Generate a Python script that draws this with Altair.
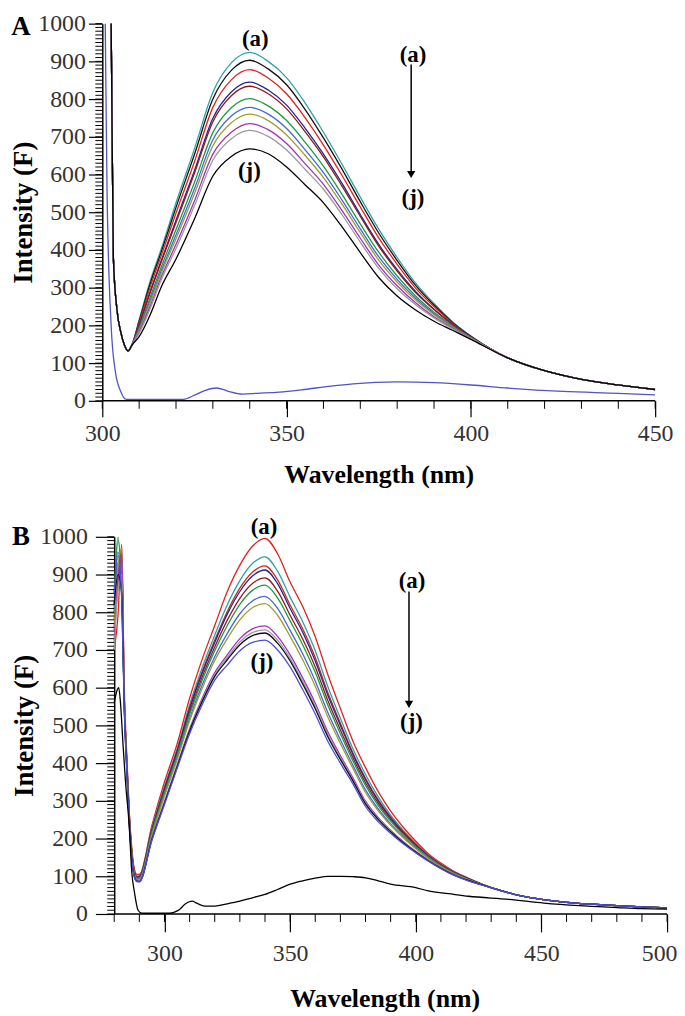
import altair as alt
import pandas as pd

FONT = "Liberation Serif"

# ---------------- Panel A data ----------------
wl_head_A = [300, 302, 302.5, 303, 304, 305, 306, 307, 308]
wl_mid_A = [310, 313, 316, 320, 325, 330, 335, 340, 345, 350, 355, 360, 365, 370,
            375, 380, 385, 390, 395, 400]
wl_tail_A = [410, 420, 430, 440, 450]
head_A = [1500, 1300, 900, 380, 240, 183, 148, 132, 147]
tail_A = [114, 80, 57, 42, 30]

A_teal = [215, 318, 403, 525, 668, 818, 896, 924, 900, 857, 790, 712, 628, 540, 455, 380, 312, 258, 210, 172]
A_black1 = [211, 311, 395, 513, 653, 800, 876, 903, 880, 838, 773, 697, 615, 528, 445, 372, 306, 254, 208, 171]
A_red = [207, 302, 385, 498, 634, 778, 851, 878, 856, 814, 751, 678, 598, 514, 432, 362, 299, 250, 206, 170]
A_navy = [201, 290, 372, 479, 610, 749, 819, 845, 824, 784, 723, 654, 577, 494, 415, 348, 290, 243, 203, 169]
A_maroon = [199, 287, 368, 473, 603, 740, 809, 834, 814, 774, 714, 647, 570, 489, 410, 344, 287, 242, 202, 169]
A_green = [193, 275, 355, 454, 579, 711, 777, 801, 782, 743, 686, 622, 548, 469, 394, 331, 278, 235, 199, 168]
A_blue = [189, 267, 345, 440, 562, 692, 755, 778, 760, 722, 666, 605, 533, 456, 382, 322, 272, 231, 197, 167]
A_olive = [186, 260, 338, 430, 549, 676, 737, 760, 743, 705, 651, 592, 522, 446, 373, 315, 267, 228, 195, 166]
A_purple = [182, 251, 328, 415, 530, 654, 712, 735, 719, 682, 629, 574, 505, 431, 360, 305, 260, 223, 193, 165]
A_gray = [179, 245, 321, 404, 517, 638, 695, 717, 701, 665, 614, 561, 494, 421, 351, 297, 255, 220, 191, 165]
A_j = [170, 228, 302, 376, 482, 596, 648, 668, 655, 620, 573, 525, 462, 393, 327, 278, 241, 211, 187, 163]

A_names = ["A01", "A02", "A03", "A04", "A05", "A06", "A07", "A08", "A09", "A10", "A11"]
A_mids = [A_teal, A_black1, A_red, A_navy, A_maroon, A_green, A_blue, A_olive, A_purple, A_gray, A_j]
A_colors = ["#2ea3a3", "#111111", "#e3201b", "#25258f", "#8a1c1c", "#1c9a40",
            "#4466e0", "#9e9e2e", "#a32ec4", "#9a9a9a", "#000000"]

wl_blank_A = [300, 300.8, 301.3, 302.4, 303.5, 305, 306.5, 322, 325, 328, 331, 334, 338, 342,
              348, 354, 362, 368, 380, 390, 400, 410, 425, 440, 450]
blank_A = [1600, 1000, 550, 200, 80, 25, 4, 4, 15, 28, 34, 26, 18, 20,
           23, 29, 39, 45, 50, 48, 42, 34, 25, 20, 16]

# ---------------- Panel B data ----------------
wl_head_B = [280, 281.5, 283, 284, 285, 286, 287, 288, 289]
wl_mid_B = [290, 295, 300, 305, 310, 315, 320, 325, 330, 335, 340, 345, 350, 355, 360,
            365, 370, 375, 380, 385, 390, 395, 400, 405, 410, 415, 420]
wl_tail_B = [430, 440, 450, 460, 470, 480, 490, 500]
tail_B = [70, 51, 39, 31, 26, 22, 19, 16]

B_red_h = [700, 790, 980, 600, 420, 270, 175, 120, 105]
B_red = [105, 235, 350, 450, 572, 675, 765, 855, 925, 975, 996, 955, 880, 815, 735, 635, 545, 458, 388, 325, 273, 230, 193, 160, 135, 114, 98]
B_teal_h = [800, 990, 850, 560, 400, 260, 165, 112, 100]
B_teal = [101, 228, 339, 438, 555, 653, 739, 820, 884, 929, 947, 909, 840, 775, 698, 603, 519, 438, 370, 311, 262, 222, 187, 156, 132, 112, 97]
B_red2_h = [750, 900, 960, 580, 410, 265, 168, 113, 100]
B_red2 = [100, 224, 334, 432, 547, 643, 726, 802, 864, 906, 923, 886, 819, 756, 680, 587, 506, 427, 360, 303, 257, 218, 185, 155, 131, 111, 96]
B_navy_h = [820, 930, 870, 560, 400, 255, 160, 110, 98]
B_navy = [99, 223, 331, 430, 543, 638, 720, 795, 855, 896, 912, 876, 810, 747, 671, 580, 500, 423, 356, 300, 255, 216, 183, 154, 130, 111, 96]
B_maroon_h = [780, 880, 940, 570, 405, 258, 162, 110, 97]
B_maroon = [97, 219, 327, 425, 535, 628, 708, 779, 837, 876, 891, 856, 792, 729, 655, 566, 488, 414, 348, 294, 250, 213, 181, 152, 129, 110, 95]
B_green_h = [850, 1000, 830, 570, 400, 255, 160, 108, 96]
B_green = [96, 217, 322, 420, 529, 620, 698, 765, 821, 858, 872, 838, 777, 714, 641, 554, 478, 406, 341, 288, 246, 210, 179, 151, 128, 109, 94]
B_blue_h = [800, 950, 880, 560, 395, 250, 158, 106, 94]
B_blue = [94, 212, 316, 413, 518, 607, 682, 744, 796, 830, 842, 810, 752, 690, 618, 534, 462, 394, 329, 279, 239, 205, 175, 149, 126, 108, 93]
B_olive_h = [760, 920, 970, 580, 400, 252, 158, 105, 92]
B_olive = [92, 209, 312, 408, 512, 598, 672, 730, 780, 812, 823, 792, 736, 674, 604, 522, 452, 386, 322, 274, 235, 202, 173, 147, 125, 107, 93]
B_purple_h = [720, 880, 950, 560, 390, 245, 152, 102, 89]
B_purple = [88, 201, 298, 394, 491, 572, 640, 687, 730, 756, 764, 736, 687, 626, 559, 483, 420, 361, 299, 256, 222, 192, 166, 143, 122, 105, 91]
B_gray_h = [700, 860, 900, 550, 385, 240, 150, 100, 88]
B_gray = [87, 199, 296, 392, 487, 567, 635, 680, 721, 746, 753, 726, 678, 617, 551, 476, 415, 356, 295, 253, 220, 190, 165, 142, 122, 104, 91]
B_black_h = [820, 900, 850, 550, 385, 240, 150, 100, 87]
B_black = [86, 198, 294, 390, 485, 563, 630, 674, 714, 738, 745, 718, 671, 610, 544, 470, 410, 353, 292, 251, 218, 189, 164, 141, 121, 104, 91]
B_j_h = [850, 960, 830, 540, 380, 235, 145, 98, 86]
B_j = [85, 195, 290, 385, 478, 555, 620, 660, 698, 720, 726, 700, 655, 595, 530, 458, 400, 345, 285, 245, 214, 186, 162, 140, 120, 103, 90]

B_names = ["B01", "B02", "B03", "B04", "B05", "B06", "B07", "B08", "B09", "B10", "B11", "B12"]
B_heads = [B_red_h, B_teal_h, B_red2_h, B_navy_h, B_maroon_h, B_green_h, B_blue_h, B_olive_h,
           B_purple_h, B_gray_h, B_black_h, B_j_h]
B_mids = [B_red, B_teal, B_red2, B_navy, B_maroon, B_green, B_blue, B_olive,
          B_purple, B_gray, B_black, B_j]
B_colors = ["#e5201c", "#2ea3a3", "#d0261f", "#25258f", "#8a1c1c", "#1c9a40",
            "#4466e0", "#9e9e2e", "#a32ec4", "#9a9a9a", "#111111", "#4a4fd8"]

wl_blank_B = [280, 281, 281.8, 282.5, 283.5, 284.5, 286, 287, 288, 289.5, 291, 302, 304, 306,
              308, 311, 313, 316, 320, 325, 330, 335, 340, 345, 350, 355, 360, 365, 370,
              375, 380, 385, 390, 400, 405, 413, 421, 437, 451, 465, 480, 490, 500]
blank_B = [560, 590, 600, 560, 450, 350, 230, 110, 60, 10, 2, 2, 5, 12,
           25, 34, 28, 21, 21, 27, 34, 43, 52, 65, 79, 88, 95, 100, 100,
           99, 96, 88, 79, 70, 61, 54, 47, 39, 29, 22, 17, 14, 13]

# ---------------- tables ----------------
rows = []
for name, mid in zip(A_names, A_mids):
    for w, v in zip(wl_head_A + wl_mid_A + wl_tail_A, head_A + mid + tail_A):
        rows.append({"curve": name, "wl": w, "v": v})
for w, v in zip(wl_blank_A, blank_A):
    rows.append({"curve": "A00", "wl": w, "v": v})
dfA = pd.DataFrame(rows)

rows = []
for name, hd, mid in zip(B_names, B_heads, B_mids):
    for w, v in zip(wl_head_B + wl_mid_B + wl_tail_B, hd + mid + tail_B):
        rows.append({"curve": name, "wl": w, "v": v})
for w, v in zip(wl_blank_B, blank_B):
    rows.append({"curve": "B00", "wl": w, "v": v})
dfB = pd.DataFrame(rows)

ALL_NAMES = ["A00"] + A_names + ["B00"] + B_names
ALL_COLORS = ["#5252c8"] + A_colors + ["#000000"] + B_colors

H = 380


def panel(df, width, xdom, xstart, xend, xmajor, xminor, ann, arrow, letter,
          yoffset, ytick, ylabpad, ytitlepad, xtick, xlabpad, xtitlepad, flush, flush_off,
          letter_x, letter_y):
    xs = alt.Scale(domain=xdom, nice=False, zero=False)
    ys = alt.Scale(domain=[0, 1000], nice=False, zero=False)
    xax = alt.Axis(values=xmajor, title="Wavelength (nm)", tickSize=xtick, domain=False,
                   labelPadding=xlabpad, titlePadding=xtitlepad, format="d",
                   labelFlush=flush, labelFlushOffset=flush_off)
    yax = alt.Axis(values=list(range(0, 1001, 100)), title="Intensity (F)", offset=yoffset,
                   tickSize=ytick, labelPadding=ylabpad, titlePadding=ytitlepad, format="d",
                   titleFontSize=27)
    X = lambda f: alt.X(f, scale=xs, axis=xax)
    Y = lambda f: alt.Y(f, scale=ys, axis=yax)
    y0px = -yoffset

    xdomain = alt.Chart(pd.DataFrame({"wl": [xstart], "wl2": [xend]})).mark_rule(
        color="black", strokeWidth=1.5).encode(x=X("wl:Q"), x2="wl2:Q", y=alt.value(H))
    lines = alt.Chart(df).mark_line(clip=True, strokeWidth=1.3, interpolate="monotone").encode(
        x=X("wl:Q"), y=Y("v:Q"),
        color=alt.Color("curve:N", scale=alt.Scale(domain=ALL_NAMES, range=ALL_COLORS),
                        legend=None),
    )
    yminor = alt.Chart(pd.DataFrame({"v": list(range(0, 1001, 10))})).mark_rule(
        color="black", strokeWidth=1).encode(
        y=Y("v:Q"), x=alt.value(y0px - 7), x2=alt.value(y0px))
    xmin = alt.Chart(pd.DataFrame({"wl": xminor})).mark_rule(color="black", strokeWidth=1).encode(
        x=X("wl:Q"), y=alt.value(H), y2=alt.value(H + 8))
    text = alt.Chart(pd.DataFrame(ann)).mark_text(
        font=FONT, fontWeight="bold", fontSize=23, color="black").encode(
        x=X("wl:Q"), y=Y("v:Q"), text="t:N")
    arr_rule = alt.Chart(pd.DataFrame({"wl": [arrow[0]], "v": [arrow[1]], "v2": [arrow[2]]})).mark_rule(
        color="black", strokeWidth=1.5).encode(
        x=X("wl:Q"), y=Y("v:Q"), y2="v2:Q")
    arr_head = alt.Chart(pd.DataFrame({"wl": [arrow[0]], "v": [arrow[3]]})).mark_point(
        shape="triangle-down", filled=True, color="black", size=70, opacity=1).encode(
        x=X("wl:Q"), y=Y("v:Q"))
    lab = alt.Chart(pd.DataFrame({"t": [letter]})).mark_text(
        font=FONT, fontWeight="bold", fontSize=27, color="black").encode(
        x=alt.value(letter_x), y=alt.value(letter_y), text="t:N")
    return alt.layer(xdomain, lines, yminor, xmin, text, arr_rule, arr_head, lab).properties(
        width=width, height=H)


annA = {"wl": [341.5, 339.9, 384.3, 384.3], "v": [958, 608, 918, 537],
        "t": ["(a)", "(j)", "(a)", "(j)"]}
annB = {"wl": [339.6, 338.8, 398.5, 398.3], "v": [1026, 668, 882, 508],
        "t": ["(a)", "(j)", "(a)", "(j)"]}

pA = panel(dfA, 557, [300, 450], 300, 450, [300, 350, 400, 450],
           list(range(300, 451, 10)), annA, [383.8, 892, 603, 600], "A",
           0, 14, 3, 0, 16, 5, 16, False, 0, -82, 3)
pB = panel(dfB, 569, [275.26, 500], 280, 500, [300, 350, 400, 450, 500],
           list(range(280, 501, 10)), annB, [397.3, 855, 560, 556], "B",
           -12, 19, 8, 1, 18, 10, 20, True, 10, -82, 0)

chart = alt.concat(pA, pB, columns=1, spacing=29).properties(
    padding={"left": 2, "top": 0, "right": 0, "bottom": 0}
).configure_axis(
    labelFont=FONT, labelFontSize=24, labelColor="#333333",
    titleFont=FONT, titleFontSize=26, titleFontWeight="bold", titleColor="black",
    domainColor="black", domainWidth=1.5, tickColor="black", tickWidth=1.2, grid=False,
).configure_view(stroke=None)

chart.save("out.html", embed_options={"renderer": "svg", "actions": False})
